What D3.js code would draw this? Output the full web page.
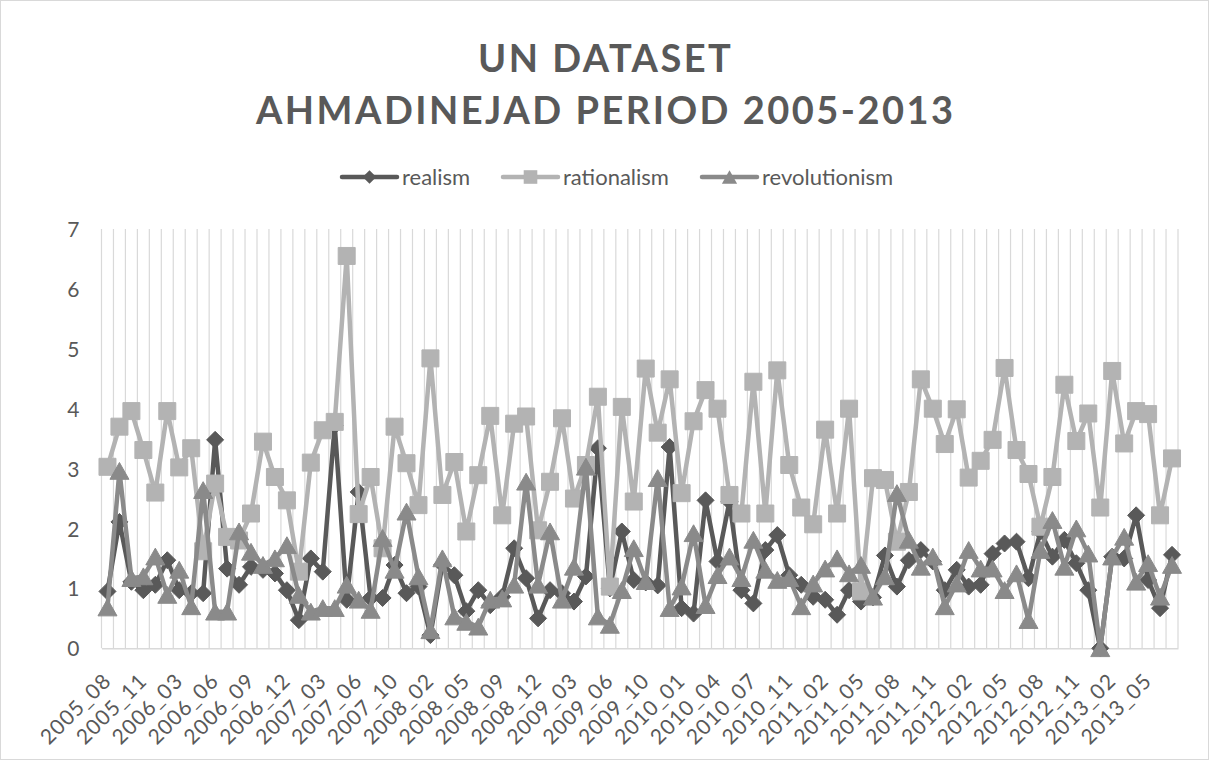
<!DOCTYPE html>
<html>
<head>
<meta charset="utf-8">
<script src="https://cdn.jsdelivr.net/npm/d3@7"></script>
<style>
  body { margin: 0; background: #fff; }
  text { font-family: Lato, "Open Sans", sans-serif; fill: #595959; }
</style>
</head>
<body>
<svg id="chart" width="1209" height="760"></svg>
<script>

/* DATA */
var titleLines = ["UN DATASET", "AHMADINEJAD PERIOD 2005-2013"];
var seriesNames = ["realism", "rationalism", "revolutionism"];

var categories = [
  "2005_08","2005_09","2005_10","2005_11","2005_12","2006_01","2006_03","2006_04","2006_05","2006_06",
  "2006_07","2006_08","2006_09","2006_10","2006_11","2006_12","2007_01","2007_02","2007_03","2007_04",
  "2007_05","2007_06","2007_07","2007_08","2007_10","2007_11","2007_12","2008_02","2008_03","2008_04",
  "2008_05","2008_06","2008_07","2008_09","2008_10","2008_11","2008_12","2009_01","2009_02","2009_03",
  "2009_04","2009_05","2009_06","2009_07","2009_08","2009_10","2009_11","2009_12","2010_01","2010_02",
  "2010_03","2010_04","2010_05","2010_06","2010_07","2010_08","2010_09","2010_11","2010_12","2011_01",
  "2011_02","2011_03","2011_04","2011_05","2011_06","2011_07","2011_08","2011_09","2011_10","2011_11",
  "2011_12","2012_01","2012_02","2012_03","2012_04","2012_05","2012_06","2012_07","2012_08","2012_09",
  "2012_10","2012_11","2012_12","2013_01","2013_02","2013_03","2013_04","2013_05","2013_06","2013_07"
];

/* labels that are actually printed under the axis */
var shownTicks = [
  "2005_08","2005_11","2006_03","2006_06","2006_09","2006_12","2007_03","2007_06","2007_10","2008_02",
  "2008_05","2008_09","2008_12","2009_03","2009_06","2009_10","2010_01","2010_04","2010_07","2010_11",
  "2011_02","2011_05","2011_08","2011_11","2012_02","2012_05","2012_08","2012_11","2013_02","2013_05"
];

var yTicks = [0, 1, 2, 3, 4, 5, 6, 7];

var realism = [
  0.95,2.11,1.11,0.97,1.06,1.47,0.97,0.92,0.92,3.48,
  1.33,1.06,1.36,1.31,1.25,0.97,0.47,1.50,1.28,3.72,
  0.81,2.61,0.84,0.84,1.39,0.92,1.03,0.22,1.40,1.22,
  0.62,0.97,0.72,0.86,1.67,1.17,0.50,0.97,0.92,0.78,
  1.20,3.34,1.00,1.95,1.14,1.10,1.05,3.36,0.67,0.58,
  2.47,1.45,2.45,0.97,0.75,1.64,1.89,1.22,1.06,0.86,
  0.81,0.56,0.97,0.78,0.85,1.55,1.03,1.47,1.64,1.45,
  0.97,1.31,1.03,1.06,1.58,1.75,1.78,1.17,1.95,1.53,
  1.81,1.42,0.97,0.00,1.53,1.50,2.22,1.14,0.67,1.56
];

var rationalism = [
  3.03,3.70,3.96,3.31,2.60,3.96,3.02,3.34,1.62,2.75,
  1.86,1.80,2.25,3.45,2.86,2.47,1.28,3.10,3.64,3.78,
  6.55,2.24,2.86,1.67,3.70,3.09,2.39,4.84,2.56,3.11,
  1.95,2.89,3.88,2.22,3.75,3.87,1.97,2.78,3.84,2.50,
  3.06,4.20,1.03,4.03,2.45,4.67,3.60,4.49,2.59,3.79,
  4.31,4.00,2.56,2.25,4.45,2.25,4.64,3.06,2.35,2.07,
  3.65,2.25,4.00,0.95,2.84,2.81,1.78,2.61,4.49,4.00,
  3.41,3.99,2.85,3.13,3.48,4.68,3.31,2.91,2.03,2.86,
  4.40,3.46,3.92,2.35,4.63,3.42,3.96,3.91,2.22,3.17
];

var revolutionism = [
  0.68,2.96,1.17,1.20,1.53,0.89,1.31,0.70,2.64,0.61,
  0.61,1.95,1.61,1.39,1.50,1.72,0.89,0.61,0.67,0.67,
  1.06,0.81,0.64,1.84,1.31,2.28,1.20,0.30,1.50,0.53,
  0.44,0.36,0.81,0.83,1.06,2.78,1.06,1.95,0.81,1.36,
  3.03,0.53,0.39,0.97,1.67,1.12,2.84,0.67,1.03,1.92,
  0.72,1.22,1.53,1.17,1.81,1.31,1.14,1.17,0.70,1.08,
  1.33,1.50,1.25,1.39,0.86,1.20,2.59,1.81,1.36,1.53,
  0.70,1.08,1.64,1.33,1.33,0.97,1.25,0.47,1.64,2.14,
  1.36,2.00,1.58,0.00,1.53,1.86,1.11,1.42,0.86,1.39
];

/* STYLE */
var colors = ["#595959", "#b3b3b3", "#8a8a8a"];
var shapes = [
  "M0,-8.5L8.5,0L0,8.5L-8.5,0Z",              /* diamond */
  "M-8.5,-8.5H8.5V8.5H-8.5Z",                 /* square */
  "M0,-8.5L9.5,8.3L-9.5,8.3Z"                 /* triangle */
];

var svg = d3.select("#chart");

/* chart border */
svg.append("rect")
  .attr("x", 0.5).attr("y", 0.5)
  .attr("width", 1208).attr("height", 759)
  .attr("fill", "#fff")
  .attr("stroke", "#d9d9d9");

/* plot area */
var plot = { left: 101.5, right: 1178, top: 229, bottom: 648.3 };

var x = d3.scaleBand()
  .domain(categories)
  .range([plot.left, plot.right])
  .padding(0);

var y = d3.scaleLinear()
  .domain([0, 7])
  .range([plot.bottom, plot.top]);

function cx(i) { return x(categories[i]) + x.bandwidth() / 2; }

/* vertical gridlines on category boundaries */
var bounds = categories.map(function(c) { return x(c); }).concat([plot.right]);
svg.append("g")
  .selectAll("line")
  .data(bounds)
  .enter().append("line")
  .attr("x1", function(d) { return d; })
  .attr("x2", function(d) { return d; })
  .attr("y1", plot.top)
  .attr("y2", plot.bottom)
  .attr("stroke", "#d9d9d9")
  .attr("stroke-width", 1.2);

/* x axis */
var xAxis = svg.append("g")
  .attr("transform", "translate(0," + plot.bottom + ")")
  .call(d3.axisBottom(x).tickValues(shownTicks).tickSize(0));
xAxis.select(".domain").attr("stroke", "#d9d9d9").attr("stroke-width", 1.5);
xAxis.attr("font-family", null);
xAxis.selectAll("text")
  .attr("font-size", 21)
  .attr("letter-spacing", 1)
  .attr("fill", "#595959")
  .attr("text-anchor", "end")
  .attr("x", 0).attr("y", 0).attr("dy", null)
  .attr("transform", "translate(5,34) rotate(-45)");

/* y axis */
var yAxis = svg.append("g")
  .attr("transform", "translate(" + (plot.left - 22) + ",0)")
  .call(d3.axisLeft(y).tickValues(yTicks).tickSize(0).tickFormat(d3.format("d")));
yAxis.select(".domain").remove();
yAxis.attr("font-family", null);
yAxis.selectAll("text")
  .attr("font-size", 21)
  .attr("fill", "#595959")
  .attr("x", 0)
  .attr("dy", "0.36em");

/* series, drawn in order so the triangles end on top */
var allSeries = [realism, rationalism, revolutionism];
var valueline = d3.line()
  .x(function(d, i) { return cx(i); })
  .y(function(d) { return y(d); });

allSeries.forEach(function(values, s) {
  var g = svg.append("g");
  g.append("path")
    .datum(values)
    .attr("fill", "none")
    .attr("stroke", colors[s])
    .attr("stroke-width", 4.5)
    .attr("stroke-linejoin", "round")
    .attr("stroke-linecap", "round")
    .attr("d", valueline);
  g.selectAll("path.marker")
    .data(values)
    .enter().append("path")
    .attr("class", "marker")
    .attr("d", shapes[s])
    .attr("fill", colors[s])
    .attr("stroke", colors[s])
    .attr("stroke-width", 1)
    .attr("stroke-linejoin", "round")
    .attr("transform", function(d, i) { return "translate(" + cx(i) + "," + y(d) + ")"; });
});

/* legend */
var legendX = [342, 503, 702];
var legendY = 177;
seriesNames.forEach(function(name, s) {
  var g = svg.append("g").attr("transform", "translate(" + legendX[s] + "," + legendY + ")");
  g.append("line")
    .attr("x1", 0).attr("x2", 55)
    .attr("y1", 0).attr("y2", 0)
    .attr("stroke", colors[s])
    .attr("stroke-width", 4.5)
    .attr("stroke-linecap", "round");
  g.append("path")
    .attr("d", shapes[s])
    .attr("fill", colors[s])
    .attr("transform", "translate(27.5,0) scale(0.8)");
  g.append("text")
    .attr("x", 60)
    .attr("y", 0)
    .attr("dy", "0.35em")
    .attr("font-size", 22)
    .text(name);
});

/* title, spaced out to the reference width */
var titleY = [72, 124];
var titleNodes = titleLines.map(function(line, k) {
  return svg.append("text")
    .attr("x", 604.5)
    .attr("y", titleY[k])
    .attr("text-anchor", "middle")
    .attr("font-size", 38)
    .attr("font-weight", "bold")
    .text(line);
});
var natural = titleNodes[1].node().getComputedTextLength();
var spacing = (697 - natural) / (titleLines[1].length - 1);
titleNodes.forEach(function(t) {
  t.attr("letter-spacing", spacing)
   .attr("x", 604.5 + spacing / 2);
});

</script>
</body>
</html>
